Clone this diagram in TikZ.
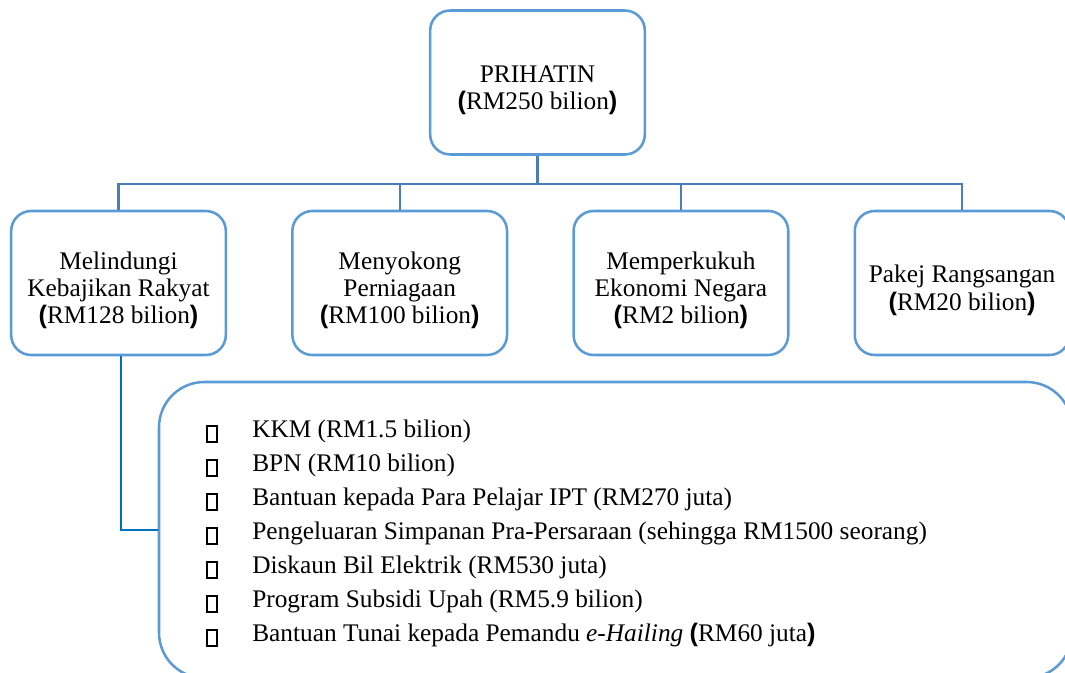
\documentclass[tikz,border=0pt]{standalone}
\usepackage{fontspec}
\setmainfont{Liberation Serif}
\setsansfont{Liberation Sans}
\usepackage{tikz}
\usetikzlibrary{positioning}
\definecolor{boxblue}{HTML}{5B9BD5}
\definecolor{linkblue}{HTML}{4A7EBB}
\definecolor{leftblue}{HTML}{0070C0}
\newcommand{\lpar}{{\sffamily\bfseries(}}
\newcommand{\rpar}{{\sffamily\bfseries)}}
\newcommand{\atas}{\rule{0pt}{24pt}}

\begin{document}
\begin{tikzpicture}[x=0.75pt,y=-0.75pt,
  kotak/.style={draw=boxblue,line width=1.9pt,rounded corners=15pt,fill=white,minimum width=161pt,minimum height=108pt,align=center,font=\fontsize{19}{20.5}\selectfont},
  cabang/.style={draw=linkblue,line width=1.6pt},
  petak/.style={draw=black,line width=1.6pt,minimum width=8pt,minimum height=12.5pt,inner sep=0pt},
  butir/.style={anchor=base west,inner sep=0pt,font=\fontsize{19}{20}\selectfont}]
\useasboundingbox (0,0) rectangle (1065,673);
\clip (0,0) rectangle (1065,673);
\node[kotak] (prihatin) at (537.5,82.5) {\atas PRIHATIN\\\lpar RM250 bilion\rpar};
\node[kotak] (rakyat) at (118.5,283) {\atas Melindungi\\Kebajikan Rakyat\\\lpar RM128 bilion\rpar};
\node[kotak,right=48pt of rakyat] (niaga) {\atas Menyokong\\Perniagaan\\\lpar RM100 bilion\rpar};
\node[kotak,right=48pt of niaga] (ekonomi) {\atas Memperkukuh\\Ekonomi Negara\\\lpar RM2 bilion\rpar};
\node[kotak,right=48pt of ekonomi] (pakej) {\atas Pakej Rangsangan\\\lpar RM20 bilion\rpar};
\node[draw=boxblue,line width=1.9pt,rounded corners=34pt,minimum width=684.75pt,minimum height=222pt] (senarai) at (615.5,530) {};
\draw[cabang] (prihatin.south) -- ++(0,28.5) coordinate (simpang);
\foreach \n in {rakyat,niaga,ekonomi,pakej}
  \draw[cabang] (simpang) -| (\n.north);
\draw[draw=leftblue,line width=1.5pt] ([xshift=2pt]rakyat.south) |- (senarai.west);
\foreach \t [count=\i] in {KKM (RM1.5 bilion),BPN (RM10 bilion),Bantuan kepada Para Pelajar IPT (RM270 juta),Pengeluaran Simpanan Pra-Persaraan (sehingga RM1500 seorang),Diskaun Bil Elektrik (RM530 juta),Program Subsidi Upah (RM5.9 bilion),{Bantuan Tunai kepada Pemandu \textit{e-Hailing} \lpar RM60 juta\rpar}}{
  \node[petak] (petak\i) at (212,400+34*\i) {};
  \node[butir] (item\i) at (252,404+34*\i) {\t};
}
\end{tikzpicture}
\end{document}
